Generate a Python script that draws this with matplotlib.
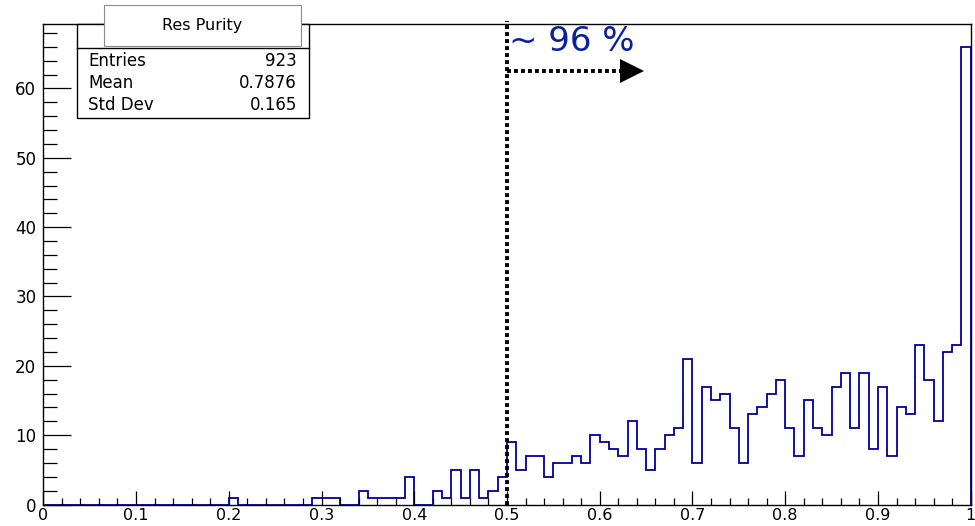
import numpy as np
import matplotlib.pyplot as plt
from matplotlib.patches import Rectangle
from matplotlib.ticker import MultipleLocator

plt.rcParams['font.family'] = ['DejaVu Sans']

# histogram "Res Purity", 100 bins from 0 to 1
bin_edges = np.linspace(0, 1, 101)
counts = [0, 0, 0, 0, 0, 0, 0, 0, 0, 0,
          0, 0, 0, 0, 0, 0, 0, 0, 0, 0,
          1, 0, 0, 0, 0, 0, 0, 0, 0, 1,
          1, 1, 0, 0, 2, 1, 1, 1, 1, 4,
          0, 0, 2, 1, 5, 1, 5, 1, 2, 4,
          9, 5, 7, 7, 4, 6, 6, 7, 6, 10,
          9, 8, 7, 12, 8, 5, 8, 10, 11, 21,
          6, 17, 15, 16, 11, 6, 13, 14, 16, 18,
          11, 7, 15, 11, 10, 17, 19, 11, 19, 8,
          17, 7, 14, 13, 23, 18, 12, 22, 23, 66]

stat_names = ['Entries', 'Mean', 'Std Dev']
stat_values = ['923', '0.7876', '0.165']
hist_title = 'Res Purity'

cut_value = 0.5
arrow_end = 0.622
arrow_y = 62.5
label_text = '~ 96 %'

W, H = 975, 526
fig = plt.figure(figsize=(W / 100, H / 100), dpi=100)
ax = fig.add_axes([43.3 / W, 1 - 504.5 / H, 927.4 / W, 480.5 / H])

ax.stairs(counts, bin_edges, color='#000099', linewidth=1.3)

ax.set_xlim(0, 1)
ax.set_ylim(0, max(counts) * 1.05)

ax.xaxis.set_minor_locator(MultipleLocator(0.02))
ax.yaxis.set_major_locator(MultipleLocator(10))
ax.yaxis.set_minor_locator(MultipleLocator(2))
ax.set_xticks(np.arange(0, 1.01, 0.1))
ax.set_xticklabels(['0', '0.1', '0.2', '0.3', '0.4', '0.5', '0.6', '0.7', '0.8', '0.9', '1'])

ax.tick_params(axis='x', which='major', direction='in', length=10, width=0.9,
               labelsize=11.5, pad=2.5, top=False)
ax.tick_params(axis='x', which='minor', direction='in', length=5, width=0.9, top=False)
ax.tick_params(axis='y', which='major', direction='in', length=20, width=0.9,
               labelsize=12, pad=5, right=False)
ax.tick_params(axis='y', which='minor', direction='in', length=10, width=0.9, right=False)
for s in ax.spines.values():
    s.set_linewidth(1.0)

# cut line and arrow
ytop = max(counts) * 1.05
ax.plot([cut_value, cut_value], [0, ytop * 1.006], color='black', lw=2.8,
        linestyle=(0, (1, 0.8)), clip_on=False, zorder=3)
ax.plot([cut_value, arrow_end], [arrow_y, arrow_y], color='black', lw=2.8,
        linestyle=(0, (1, 0.8)), zorder=3)
ax.plot([arrow_end + 0.0125], [arrow_y], marker='>', ms=17, color='black',
        markeredgewidth=0, zorder=3)
ax.text(0.502, 65.4, label_text, color='#0a1f9c', fontsize=24.5, ha='left', va='baseline')

# stats box
def fx(px):
    return px / W

def fy(py):
    return 1 - py / H

fig.patches.append(Rectangle((fx(77), fy(118)), fx(309) - fx(77), fy(24) - fy(118),
                             transform=fig.transFigure, facecolor='white',
                             edgecolor='black', lw=1.0, zorder=5))
fig.lines.append(plt.Line2D([fx(77), fx(309)], [fy(47.5), fy(47.5)],
                            transform=fig.transFigure, color='black', lw=1.0, zorder=6))
fig.patches.append(Rectangle((fx(104), fy(45.5)), fx(301) - fx(104), fy(5) - fy(45.5),
                             transform=fig.transFigure, facecolor='white',
                             edgecolor='#8a8a8a', lw=0.8, zorder=7))
fig.text(fx(202.5), fy(25.5), hist_title, ha='center', va='center', fontsize=11.5, zorder=8)

row_base = [66.5, 88.5, 110.5]
for name, val, yb in zip(stat_names, stat_values, row_base):
    fig.text(fx(88), fy(yb), name, ha='left', va='baseline', fontsize=12, zorder=8)
    fig.text(fx(297), fy(yb), val, ha='right', va='baseline', fontsize=12, zorder=8)

fig.savefig('out.png', dpi=100)
